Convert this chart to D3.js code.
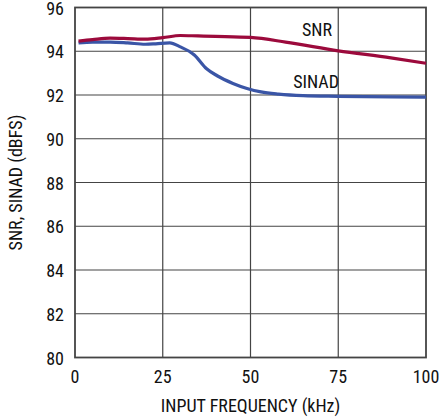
<!DOCTYPE html>
<html><head><meta charset="utf-8">
<script src="https://cdn.jsdelivr.net/npm/d3@7"></script>
<style>
body{margin:0;background:#fff;}
text{font-family:"Liberation Sans Narrow","Roboto Condensed","Arial Narrow",sans-serif;fill:#111;}
</style></head>
<body><svg id="c" width="441" height="419"></svg>
<script>
const xTicks = [0, 25, 50, 75, 100];
const yTicks = [80, 82, 84, 86, 88, 90, 92, 94, 96];
const snrFreq = [1, 5, 10, 15, 20, 25, 30, 35, 40, 50, 60, 75, 90, 100];
const snrVals = [94.46, 94.53, 94.6, 94.58, 94.55, 94.62, 94.72, 94.7, 94.68, 94.63, 94.42, 94.02, 93.7, 93.45];
const sinadFreq = [1, 5, 10, 15, 20, 23, 27, 30, 34, 37.5, 40.5, 45, 49, 53, 58, 65, 75, 90, 100];
const sinadVals = [94.38, 94.42, 94.42, 94.38, 94.32, 94.34, 94.38, 94.2, 93.83, 93.2, 92.88, 92.53, 92.3, 92.14, 92.04, 91.97, 91.94, 91.91, 91.9];

const svg = d3.select("#c");
const L = 75, R = 426, T = 7.5, B = 357.5;
const x = d3.scaleLinear().domain([0, 100]).range([L, R]);
const y = d3.scaleLinear().domain([80, 96]).range([B, T]);

// grid
svg.append("g").selectAll("line").data(xTicks.slice(1, -1)).join("line")
  .attr("x1", d => x(d)).attr("x2", d => x(d)).attr("y1", T).attr("y2", B)
  .attr("stroke", "#444").attr("stroke-width", 1.2);
svg.append("g").selectAll("line").data(yTicks.slice(1, -1)).join("line")
  .attr("x1", L).attr("x2", R).attr("y1", d => y(d)).attr("y2", d => y(d))
  .attr("stroke", "#444").attr("stroke-width", 1.2);
svg.append("rect").attr("x", L).attr("y", T).attr("width", R - L).attr("height", B - T)
  .attr("fill", "none").attr("stroke", "#444").attr("stroke-width", 1.8);

// tick labels
svg.append("g").selectAll("text").data(yTicks).join("text")
  .attr("x", 64).attr("y", d => y(d) + 7).attr("text-anchor", "end")
  .attr("font-size", 18).text(d => d);
svg.append("g").selectAll("text").data(xTicks).join("text")
  .attr("x", d => x(d)).attr("y", 383).attr("text-anchor", "middle")
  .attr("font-size", 18).text(d => d);

// axis titles
svg.append("text").attr("x", (L + R) / 2 + 0).attr("y", 412).attr("text-anchor", "middle")
  .attr("font-size", 18).text("INPUT FREQUENCY (kHz)");
svg.append("text").attr("transform", "translate(22," + ((T + B) / 2) + ") rotate(-90)")
  .attr("text-anchor", "middle").attr("font-size", 18).text("SNR, SINAD (dBFS)");

const line = d3.line().x(d => x(d[0])).y(d => y(d[1])).curve(d3.curveMonotoneX);
svg.append("path").datum(sinadFreq.map((f, i) => [f, sinadVals[i]]))
  .attr("d", line).attr("fill", "none").attr("stroke", "#3a55a6").attr("stroke-width", 3.2);
svg.append("path").datum(snrFreq.map((f, i) => [f, snrVals[i]]))
  .attr("d", line).attr("fill", "none").attr("stroke", "#9c0a3c").attr("stroke-width", 3.2);

// labels
svg.append("text").attr("x", 332).attr("y", 36).attr("text-anchor", "end")
  .attr("font-size", 18).text("SNR");
svg.append("text").attr("x", 339).attr("y", 88).attr("text-anchor", "end")
  .attr("font-size", 18).text("SINAD");
</script></body></html>
